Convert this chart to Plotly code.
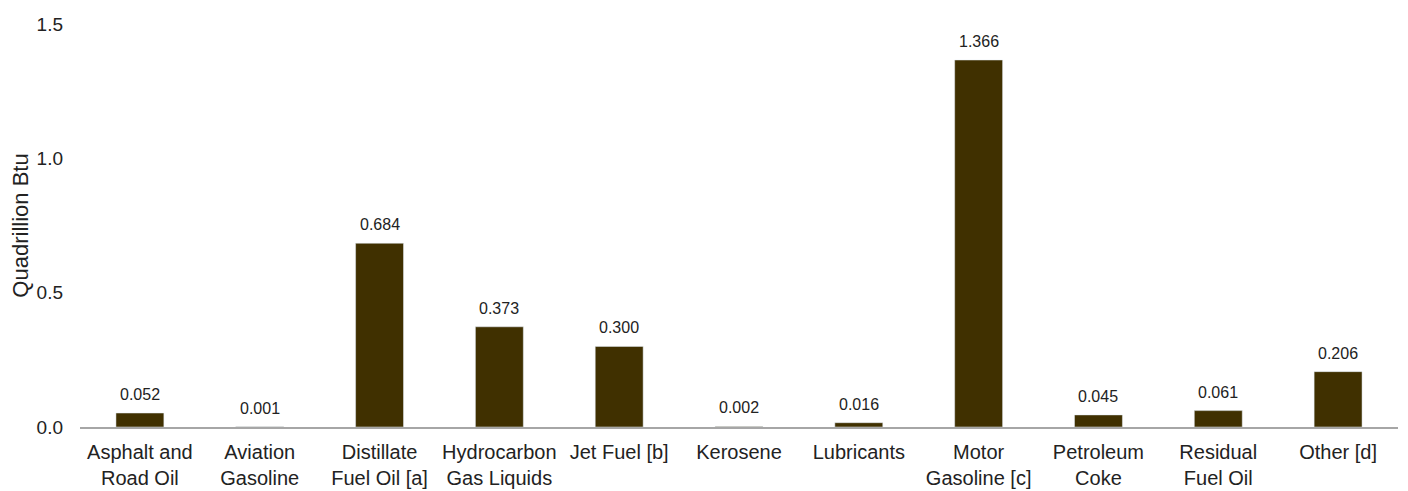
import plotly.graph_objects as go

categories = ["Asphalt and<br>Road Oil", "Aviation<br>Gasoline", "Distillate<br>Fuel Oil [a]",
              "Hydrocarbon<br>Gas Liquids", "Jet Fuel [b]", "Kerosene", "Lubricants",
              "Motor<br>Gasoline [c]", "Petroleum<br>Coke", "Residual<br>Fuel Oil", "Other [d]"]
values = [0.052, 0.001, 0.684, 0.373, 0.300, 0.002, 0.016, 1.366, 0.045, 0.061, 0.206]
labels = [f"{v:.3f}" for v in values]
y_ticks = [0.0, 0.5, 1.0, 1.5]
y_ticktext = ["0.0", "0.5", "1.0", "1.5"]

font_family = "Liberation Sans, Arial, sans-serif"

fig = go.Figure()
fig.add_trace(go.Bar(x=categories, y=values, marker_color="#403000", width=0.4,
                     hoverinfo="x+y"))

for c, v, t in zip(categories, values, labels):
    fig.add_annotation(x=c, y=v, text=t, showarrow=False, yanchor="bottom", yshift=8,
                       font=dict(size=16, color="#222222", family=font_family))

fig.update_layout(
    width=1400, height=483,
    margin=dict(l=72, r=10, t=16, b=64, autoexpand=False),
    plot_bgcolor="white", paper_bgcolor="white",
    font=dict(family=font_family, size=20, color="#222222"),
    showlegend=False,
    bargap=0.6,
)
fig.update_xaxes(showline=True, linecolor="#a6a6a6", linewidth=1.5, showgrid=False,
                 ticks="", tickfont=dict(size=20), ticklabelstandoff=6, automargin=False)
fig.update_yaxes(range=[0, 1.5], tickvals=y_ticks, ticktext=y_ticktext, showgrid=False,
                 zeroline=False, showline=False, ticks="", ticklabelstandoff=16,
                 tickfont=dict(size=19), automargin=False,
                 title=dict(text="Quadrillion Btu", font=dict(size=22), standoff=5))

fig.write_html("out.html")
